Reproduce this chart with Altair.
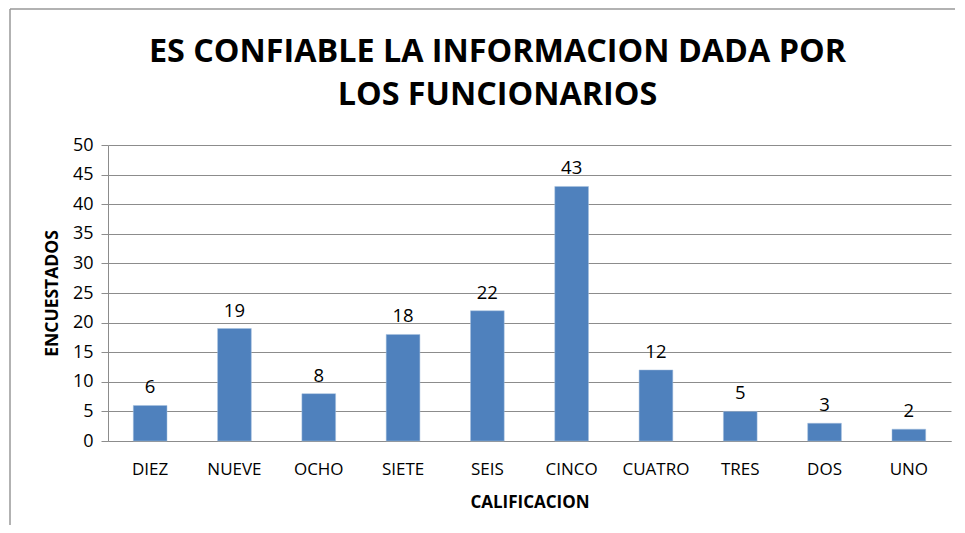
import altair as alt
import pandas as pd

categories = ["DIEZ", "NUEVE", "OCHO", "SIETE", "SEIS", "CINCO", "CUATRO", "TRES", "DOS", "UNO"]
values = [6, 19, 8, 18, 22, 43, 12, 5, 3, 2]
title_lines = ["ES CONFIABLE LA INFORMACION DADA POR", "LOS FUNCIONARIOS"]
y_ticks = [0, 5, 10, 15, 20, 25, 30, 35, 40, 45, 50]

df = pd.DataFrame({"cat": categories, "val": values})

FONT = "Open Sans"

x_enc = alt.X("cat:N", sort=categories,
              scale=alt.Scale(paddingInner=0.6, paddingOuter=0.3),
              axis=alt.Axis(title="CALIFICACION", labelAngle=0, ticks=False,
                            labelPadding=20, titlePadding=17, domainColor="#8c8c8c",
                            labelFontSize=17, titleFontSize=17))
y_enc = alt.Y("val:Q", scale=alt.Scale(domain=[0, 50], nice=False),
              axis=alt.Axis(title="ENCUESTADOS", values=y_ticks, tickSize=7,
                            labelPadding=8, titlePadding=11, grid=True,
                            gridColor="#8c8c8c", tickColor="#8c8c8c",
                            domainColor="#8c8c8c", labelOverlap=False,
                            labelFontSize=18, titleFontSize=17.5))

base = alt.Chart(df)
bars = base.mark_bar(color="#4F81BD", stroke="#a7c0de", strokeWidth=0.5).encode(x=x_enc, y=y_enc)
labels = base.mark_text(baseline="alphabetic", dy=-12, fontSize=18.5, font=FONT, color="black").encode(
    x=x_enc, y=y_enc, text="val:Q")

frame = alt.Chart(alt.Data(values=[{}]))
top_rule = frame.mark_rule(color="#999999", strokeWidth=1.5).encode(
    x=alt.value(-98), x2=alt.value(870), y=alt.value(-136))
left_rule = frame.mark_rule(color="#999999", strokeWidth=1.5).encode(
    x=alt.value(-98), y=alt.value(-136), y2=alt.value(400))

chart = alt.layer(top_rule, left_rule, bars, labels).properties(
    width=843, height=296,
    autosize=alt.AutoSizeParams(type="none"),
    padding={"left": 100, "top": 137, "right": 4, "bottom": 84},
    title=alt.Title(text=title_lines, fontSize=32.3, font=FONT, fontWeight="bold",
                    color="black", anchor="middle", dx=-32, offset=0, dy=103, lineHeight=43),
).configure_view(stroke=None).configure_axis(
    labelFont=FONT, labelColor="black",
    titleFont=FONT, titleFontWeight="bold", titleColor="black",
)

chart.save("out.html", embed_options={"renderer": "svg", "actions": False})
